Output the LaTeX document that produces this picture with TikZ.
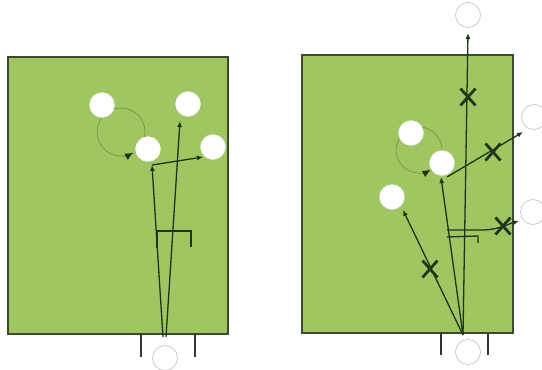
\documentclass[tikz,border=0pt]{standalone}
\usetikzlibrary{arrows.meta,calc}
\definecolor{pitch}{HTML}{9FC660}
\definecolor{pitchedge}{HTML}{3B4A2C}
\definecolor{runline}{HTML}{1E3512}
\definecolor{loopgreen}{HTML}{6F8F3E}
\definecolor{xmark}{HTML}{22361A}
\tikzset{
  field/.style={fill=pitch,draw=pitchedge,line width=1.5pt},
  player/.style={circle,fill=white,draw=white!92!black,line width=0.4pt,minimum size=25pt,inner sep=0pt},
  ghost/.style={circle,fill=white,draw=black!22,line width=0.7pt,minimum size=25pt,inner sep=0pt},
  post/.style={draw=black!80,line width=2.4pt},
  run/.style={draw=runline,line width=1.3pt,-{Latex[length=6pt,width=5pt]}},
  plain/.style={draw=runline,line width=1.3pt},
  loopline/.style={draw=loopgreen,line width=0.6pt,-{Latex[length=8pt,width=7pt,fill=runline,color=runline]}},
  xcross/.style={draw=xmark,line width=2.8pt}
}
\newcommand{\crossmark}[1]{\draw[xcross] ($(#1)+(-7.5,-8.5)$) -- ($(#1)+(7.5,8.5)$) ($(#1)+(-7.5,8.5)$) -- ($(#1)+(7.5,-8.5)$);}
\begin{document}
\begin{tikzpicture}[x=1pt,y=-1pt]
\useasboundingbox (0,0) rectangle (542,370);
% ---------------- left panel ----------------
\draw[field] (8,57) rectangle (228,334);
\draw[post] (141,333) -- (141,357);
\draw[post] (195,333) -- (195,357);
\node[ghost] (lk) at (165,358) {};
% loop
\coordinate (lc) at (121,132);
\draw[loopline] ($(lc)+(15:24)$) arc[start angle=15,end angle=-300,radius=24];
\node[player] (la) at (102,105) {};
\node[player] (lb) at (188,104) {};
\node[player] (lm) at (148,149) {};
\node[player] (lr) at (213,147) {};
\coordinate (ls1) at (163,337);
\coordinate (ls2) at (166,337);
\coordinate (lturn) at (152,165);
\coordinate (lup) at (180,121);
\coordinate (lpass) at (203,157);
\draw[run] (ls1) -- (lturn);
\draw[run] (lturn) -- (lpass);
\draw[run] (ls2) -- (lup);
\coordinate (lb1) at (157,248);
\coordinate (lb2) at (157,231);
\coordinate (lb3) at (191,231);
\coordinate (lb4) at (191,247);
\draw[plain] (lb1) -- (lb2) -- (lb3) -- (lb4);
% ---------------- right panel ----------------
\draw[field] (302,55) rectangle (513,333);
\draw[post] (441,333) -- (441,355);
\draw[post] (488,333) -- (488,355);
\node[ghost] (rk) at (468,352) {};
\node[ghost] (rt) at (468,15) {};
\node[ghost] (rr1) at (534,117) {};
\node[ghost] (rr2) at (533,212) {};
\coordinate (rc) at (419,150);
\draw[loopline] ($(rc)+(15:23)$) arc[start angle=15,end angle=-300,radius=23];
\node[player] (ra) at (411,133) {};
\node[player] (rm) at (442,163) {};
\node[player] (rl) at (392,197) {};
\coordinate (rs) at (463,335);
\coordinate (rtop) at (468,33);
\coordinate (rleft) at (403,210);
\coordinate (rmid) at (441,177);
\coordinate (rpass) at (447,177);
\coordinate (rpassend) at (523,132);
\draw[run] (rs) -- (rtop);
\draw[run] (rs) -- (rleft);
\draw[run] (rs) -- (rmid);
\draw[run] (rpass) -- (rpassend);
\coordinate (rh1) at (447,230);
\coordinate (rh2) at (482,230);
\coordinate (rh3) at (519,221);
\draw[run] (rh1) -- (rh2) .. controls (498,230) and (508,224) .. (rh3);
\coordinate (rb1) at (447,237);
\coordinate (rb2) at (478,236);
\coordinate (rb3) at (478,243);
\draw[plain] (rb1) -- (rb2) -- (rb3);
\coordinate (x1) at (468,97);
\coordinate (x2) at (493,152);
\coordinate (x3) at (503,226);
\coordinate (x4) at (430,269);
\crossmark{x1}
\crossmark{x2}
\crossmark{x3}
\crossmark{x4}
\end{tikzpicture}
\end{document}
